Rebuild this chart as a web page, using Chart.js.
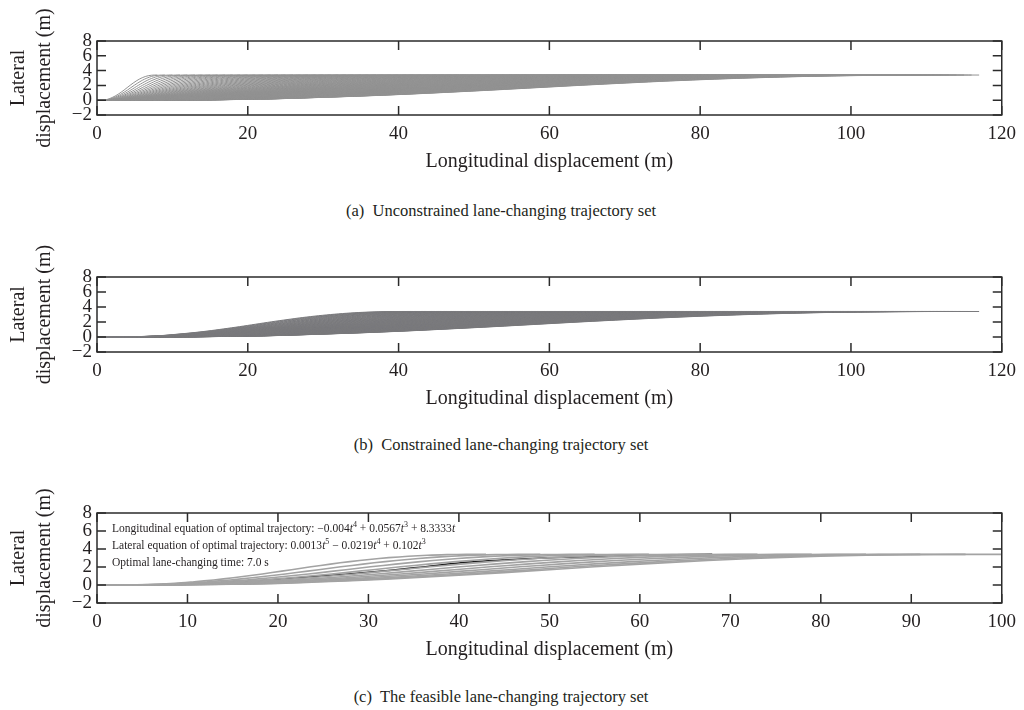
<!DOCTYPE html>
<html>
<head>
<meta charset="utf-8">
<script src="https://cdn.jsdelivr.net/npm/chart.js@4.4.0/dist/chart.umd.min.js"></script>
<style>
  html, body { margin: 0; padding: 0; background: #fff; }
  body { width: 1024px; height: 710px; position: relative; overflow: hidden;
         font-family: "Liberation Serif", "DejaVu Serif", serif; color: #231f20; }
  .panel { position: absolute; left: 0; width: 1024px; }
  .caption { position: absolute; left: 0; width: 1002px; text-align: center;
             font-size: 16.5px; line-height: 18px; white-space: pre; }
  .note { position: absolute; left: 112px; top: 520px; font-size: 11.5px; line-height: 17px; }
  .note sup { font-size: 8px; line-height: 0; }
</style>
</head>
<body>
<div class="panel" style="top:0;height:180px"><canvas id="chartA"></canvas></div>
<div class="caption" style="top:202px">(a)  Unconstrained lane-changing trajectory set</div>
<div class="panel" style="top:236px;height:181px"><canvas id="chartB"></canvas></div>
<div class="caption" style="top:436px">(b)  Constrained lane-changing trajectory set</div>
<div class="panel" style="top:472px;height:196px"><canvas id="chartC"></canvas></div>
<div class="caption" style="top:688px">(c)  The feasible lane-changing trajectory set</div>
<div class="note">
  <div>Longitudinal equation of optimal trajectory: −0.004<i>t</i><sup>4</sup> + 0.0567<i>t</i><sup>3</sup> + 8.3333<i>t</i></div>
  <div>Lateral equation of optimal trajectory: 0.0013<i>t</i><sup>5</sup> − 0.0219<i>t</i><sup>4</sup> + 0.102<i>t</i><sup>3</sup></div>
  <div>Optimal lane-changing time: 7.0 s</div>
</div>

<script>
// lane-change shape: lateral offset (m) at each fraction of the manoeuvre length
const profileFrac = [0, 0.05, 0.1, 0.15, 0.2, 0.25, 0.3, 0.35, 0.4, 0.45, 0.5,
                     0.55, 0.6, 0.65, 0.7, 0.75, 0.8, 0.85, 0.9, 0.95, 1];
const profileLat = [0, 0.0, 0.03, 0.08, 0.18, 0.36, 0.56, 0.8, 1.08, 1.38, 1.7,
                    2.02, 2.32, 2.6, 2.84, 3.04, 3.2, 3.31, 3.37, 3.4, 3.4];

// longitudinal end point (m) of each trajectory in the sets
const endsA = [8, 9, 10, 11, 12, 13, 14, 15, 16, 17, 18, 19, 20, 21, 22, 23, 24, 25, 26, 27,
               28, 29, 30, 31, 32, 33, 34, 35, 36, 37, 38, 39, 40, 41, 42, 43, 44, 45, 46, 47,
               48, 49, 50, 51, 52, 53, 54, 55, 56, 57, 58, 59, 60, 61, 62, 63, 64, 65, 66, 67,
               68, 69, 70, 71, 72, 73, 74, 75, 76, 77, 78, 79, 80, 81, 82, 83, 84, 85, 86, 87,
               88, 89, 90, 91, 92, 93, 94, 95, 96, 97, 98, 99, 100, 101, 102, 103, 104, 105, 106, 107,
               108, 109, 110, 111, 112, 113, 114, 115, 116, 117];
const endsB = [42, 43, 44, 45, 46, 47, 48, 49, 50, 51, 52, 53, 54, 55, 56, 57, 58, 59, 60, 61,
               62, 63, 64, 65, 66, 67, 68, 69, 70, 71, 72, 73, 74, 75, 76, 77, 78, 79, 80, 81,
               82, 83, 84, 85, 86, 87, 88, 89, 90, 91, 92, 93, 94, 95, 96, 97, 98, 99, 100, 101,
               102, 103, 104, 105, 106, 107, 108, 109, 110, 111, 112, 113, 114, 115, 116, 117];
const endsC = [43, 49, 55, 61, 67, 73, 79, 85, 91, 96, 100];

// optimal trajectory (black curve in panel c)
const optX = [0, 5, 10, 15, 20, 25, 30, 35, 40, 45, 50, 55, 60, 64, 68];
const optY = [0, 0.02, 0.08, 0.3, 0.62, 1.0, 1.4, 1.9, 2.45, 2.78, 3.02, 3.18, 3.3, 3.36, 3.4];

const yTicks = { min: -2, max: 8, step: 2 };
const xTicksAB = { min: 0, max: 120, step: 20 };
const xTicksC = { min: 0, max: 100, step: 10 };

Chart.defaults.font.family = '"Liberation Serif", "DejaVu Serif", serif';
Chart.defaults.color = '#231f20';

const ink = '#2b2b2b';

// box frame with inward ticks on all four sides
const framePlugin = {
  id: 'frame',
  afterDraw(chart) {
    const { ctx, chartArea: a, scales: { x, y } } = chart;
    ctx.save();
    ctx.strokeStyle = ink;
    ctx.lineWidth = 1.5;
    ctx.strokeRect(a.left, a.top, a.right - a.left, a.bottom - a.top);
    ctx.beginPath();
    x.ticks.forEach(t => {
      const px = x.getPixelForValue(t.value);
      ctx.moveTo(px, a.bottom); ctx.lineTo(px, a.bottom - 9);
      ctx.moveTo(px, a.top); ctx.lineTo(px, a.top + 9);
    });
    y.ticks.forEach(t => {
      const py = y.getPixelForValue(t.value);
      ctx.moveTo(a.left, py); ctx.lineTo(a.left + 9, py);
      ctx.moveTo(a.right, py); ctx.lineTo(a.right - 9, py);
    });
    ctx.stroke();
    ctx.restore();
  }
};

function trajectory(len) {
  return profileFrac.map((f, i) => ({ x: f * len, y: profileLat[i] }));
}

function setOf(ends, color, width) {
  return ends.map(len => ({
    data: trajectory(len),
    borderColor: color,
    borderWidth: width,
    pointRadius: 0,
    tension: 0.3
  }));
}

function makePanel(id, datasets, xt) {
  new Chart(document.getElementById(id), {
    type: 'line',
    data: { datasets },
    plugins: [framePlugin],
    options: {
      responsive: true,
      maintainAspectRatio: false,
      animation: false,
      events: [],
      layout: { padding: { top: 41, right: 17, left: 0, bottom: 0 } },
      plugins: { legend: { display: false }, tooltip: { enabled: false } },
      scales: {
        x: {
          type: 'linear',
          min: xt.min,
          max: xt.max,
          grid: { display: false, drawTicks: false },
          border: { display: false },
          ticks: { stepSize: xt.step, autoSkip: false, maxRotation: 0, padding: 8,
                   font: { size: 19 } },
          title: { display: true, text: 'Longitudinal displacement (m)',
                   font: { size: 20 }, padding: { top: 0, bottom: 6 } },
          afterFit: s => { s.height = 65; }
        },
        y: {
          min: yTicks.min,
          max: yTicks.max,
          grid: { display: false, drawTicks: false },
          border: { display: false },
          ticks: { stepSize: yTicks.step, autoSkip: false, padding: 5,
                   font: { size: 19, lineHeight: 1 },
                   callback: v => v < 0 ? '\u2212' + (-v) : String(v) },
          title: { display: true, text: ['Lateral', 'displacement (m)'],
                   font: { size: 20, lineHeight: 1.3 }, padding: { top: 6, bottom: 0 } },
          afterFit: s => { s.width = 97; }
        }
      }
    }
  });
}

makePanel('chartA', setOf(endsA, '#929292', 1), xTicksAB);
makePanel('chartB', setOf(endsB, '#7a7a7d', 1), xTicksAB);

const dsC = setOf(endsC, '#a3a3a3', 1.6);
dsC.push({
  data: optX.map((v, i) => ({ x: v, y: optY[i] })),
  borderColor: '#1a1a1a',
  borderWidth: 1.6,
  pointRadius: 0,
  tension: 0.3
});
makePanel('chartC', dsC, xTicksC);
</script>
</body>
</html>
